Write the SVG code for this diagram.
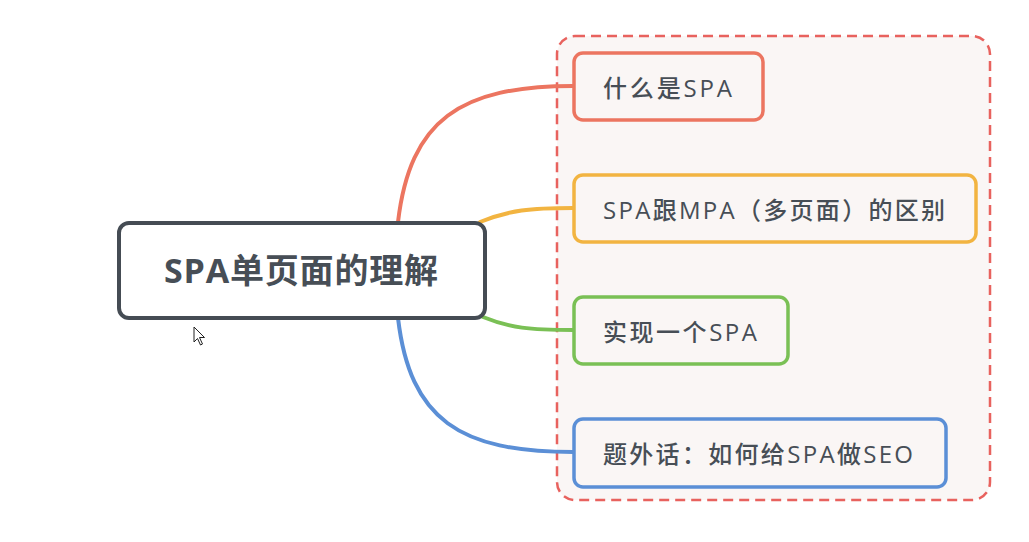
<svg xmlns="http://www.w3.org/2000/svg" width="1029" height="542" viewBox="0 0 1029 542">
<style>
.t{font-family:"Open Sans","Noto Sans CJK SC",sans-serif;fill:#474e56;dominant-baseline:central}
.n{font-size:24px;font-weight:500}
.c{fill:none;stroke-width:4;stroke-linecap:round}
.box{fill:#faf6f5;stroke-width:3.5}
</style>
<rect width="1029" height="542" fill="#ffffff"/>
<g id="frame">
<rect x="557" y="36" width="433" height="464" rx="18" fill="#faf6f5" stroke="#e8625e" stroke-width="2.5" stroke-dasharray="10 6"/>
</g>
<g id="connectors">
<path class="c" stroke="#ec7560" d="M398,222 C410,120 460,86 573,86"/>
<path class="c" stroke="#f2b441" d="M480,222 C510,210 530,208 573,208"/>
<path class="c" stroke="#7ac055" d="M483,317 C510,328 530,330 573,330"/>
<path class="c" stroke="#5b8fd6" d="M398,318 C410,420 460,452 573,452"/>
</g>
<g id="central">
<rect x="119" y="223" width="366" height="95" rx="10" fill="#ffffff" stroke="#454c54" stroke-width="4"/>
<text class="t" x="301" y="270" text-anchor="middle" font-size="34" font-weight="bold" textLength="274">SPA单页面的理解</text>
</g>
<g id="n1">
<rect class="box" x="574" y="53" width="189" height="67" rx="9" stroke="#ec7560"/>
<text class="t n" x="603" y="87" textLength="129">什么是SPA</text>
</g>
<g id="n2">
<rect class="box" x="574" y="175" width="402" height="67" rx="9" stroke="#f2b441"/>
<text class="t n" x="603" y="209" textLength="342">SPA跟MPA（多页面）的区别</text>
</g>
<g id="n3">
<rect class="box" x="574" y="297" width="214" height="67" rx="9" stroke="#7ac055"/>
<text class="t n" x="603" y="331" textLength="154">实现一个SPA</text>
</g>
<g id="n4">
<rect class="box" x="574" y="419" width="372" height="68" rx="9" stroke="#5b8fd6"/>
<text class="t n" x="603" y="453" textLength="310">题外话：如何给SPA做SEO</text>
</g>
<g id="cursor">
<path d="M194,327 L194,342 L197.5,338.5 L200.5,345 L202.5,344 L199.5,337.5 L204.5,337.5 Z" fill="#ffffff" stroke="#222" stroke-width="1" stroke-linejoin="round"/>
</g>
</svg>
